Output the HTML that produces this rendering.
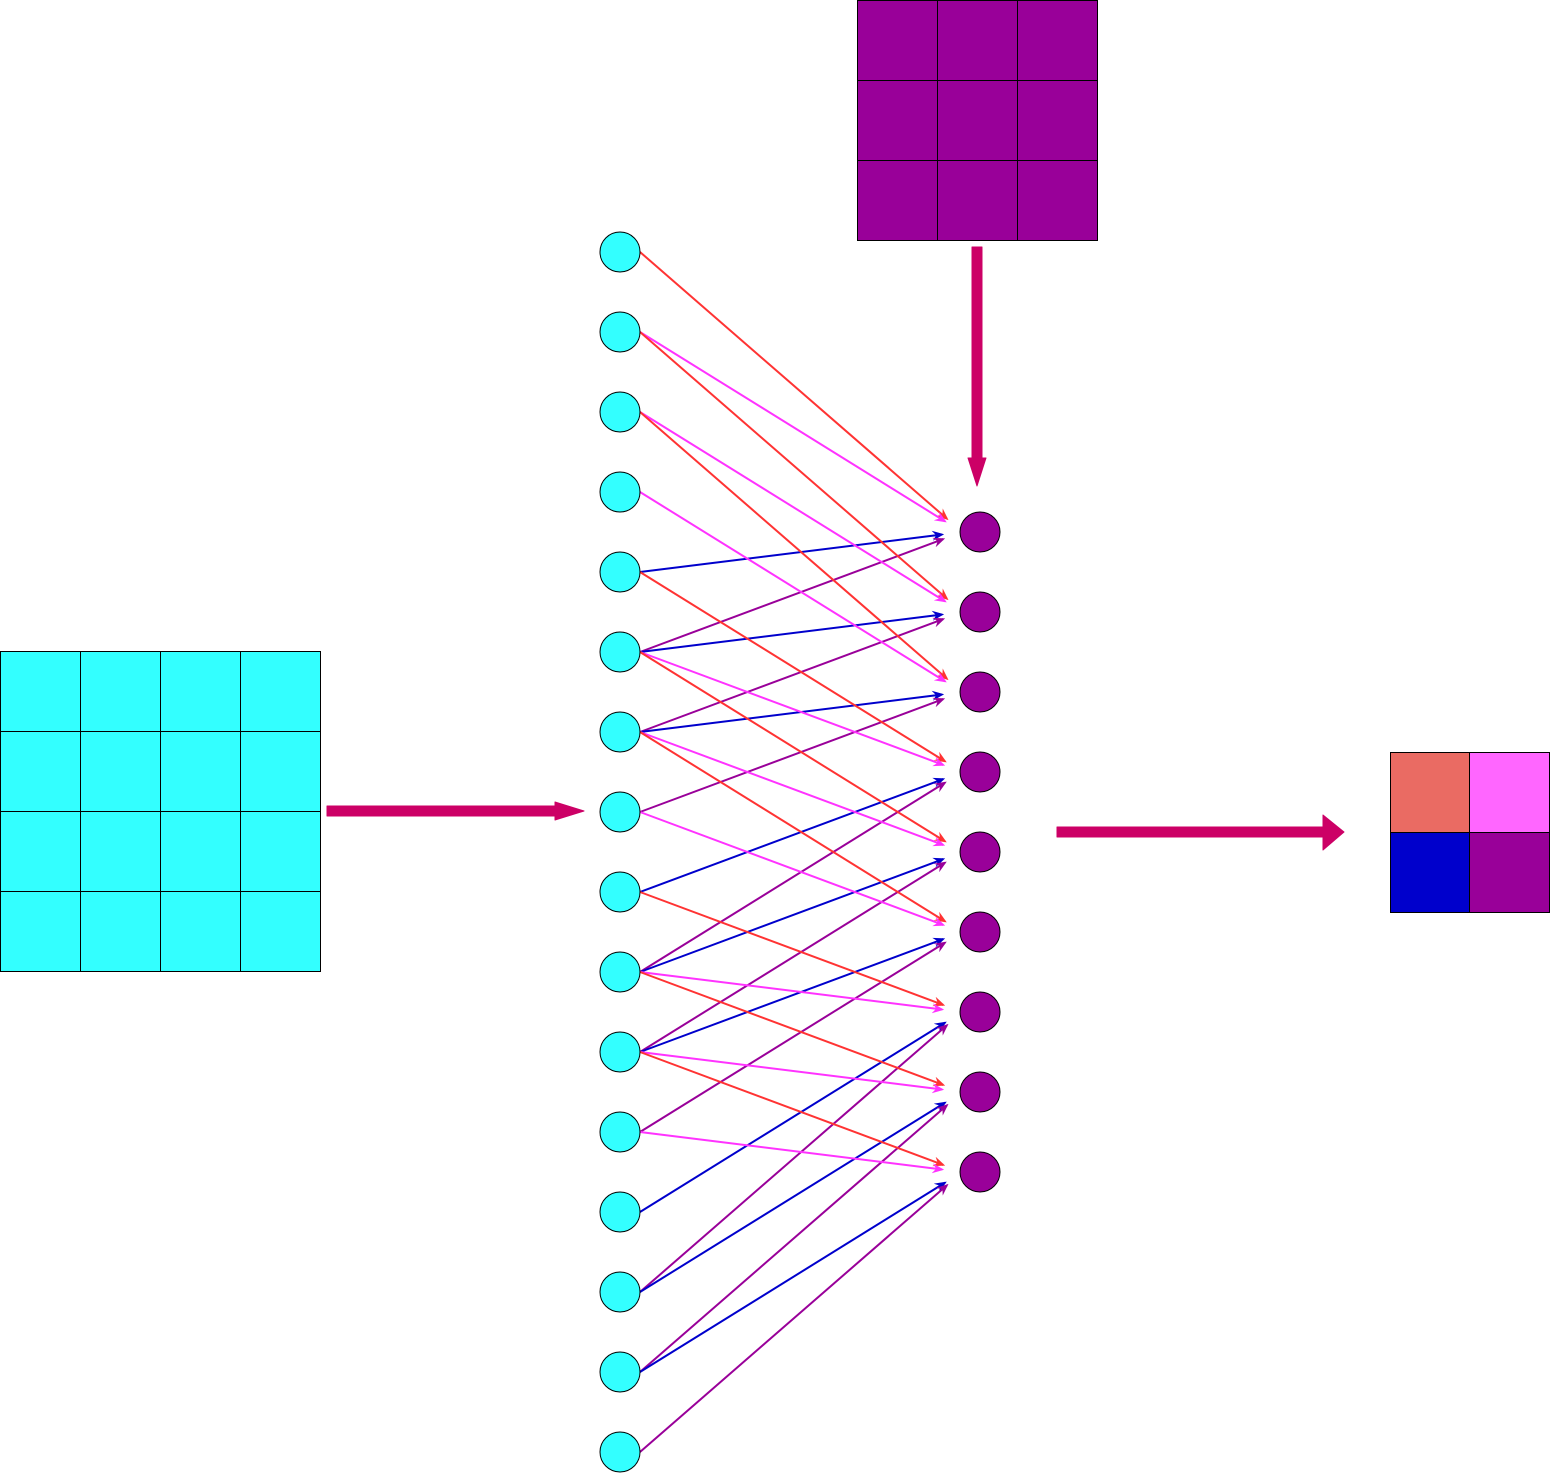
<!DOCTYPE html>
<html><head><style>html,body{margin:0;padding:0;background:#fff}svg{display:block}</style></head>
<body>
<svg width="1550" height="1473" viewBox="0 0 1550 1473" xmlns="http://www.w3.org/2000/svg">
<defs>
<marker id="mr" markerWidth="12" markerHeight="10" refX="10" refY="5" orient="auto" markerUnits="userSpaceOnUse"><path d="M0,0 L12,5 L0,10 L4,5 Z" fill="#FF3333"/></marker>
<marker id="mm" markerWidth="12" markerHeight="10" refX="10" refY="5" orient="auto" markerUnits="userSpaceOnUse"><path d="M0,0 L12,5 L0,10 L4,5 Z" fill="#FF33FF"/></marker>
<marker id="mb" markerWidth="12" markerHeight="10" refX="10" refY="5" orient="auto" markerUnits="userSpaceOnUse"><path d="M0,0 L12,5 L0,10 L4,5 Z" fill="#0000CC"/></marker>
<marker id="mp" markerWidth="12" markerHeight="10" refX="10" refY="5" orient="auto" markerUnits="userSpaceOnUse"><path d="M0,0 L12,5 L0,10 L4,5 Z" fill="#990099"/></marker>
</defs>
<g stroke="#000" stroke-width="1" fill="#33FFFF">
<rect x="0.5" y="651.5" width="80" height="80"/><rect x="80.5" y="651.5" width="80" height="80"/><rect x="160.5" y="651.5" width="80" height="80"/><rect x="240.5" y="651.5" width="80" height="80"/>
<rect x="0.5" y="731.5" width="80" height="80"/><rect x="80.5" y="731.5" width="80" height="80"/><rect x="160.5" y="731.5" width="80" height="80"/><rect x="240.5" y="731.5" width="80" height="80"/>
<rect x="0.5" y="811.5" width="80" height="80"/><rect x="80.5" y="811.5" width="80" height="80"/><rect x="160.5" y="811.5" width="80" height="80"/><rect x="240.5" y="811.5" width="80" height="80"/>
<rect x="0.5" y="891.5" width="80" height="80"/><rect x="80.5" y="891.5" width="80" height="80"/><rect x="160.5" y="891.5" width="80" height="80"/><rect x="240.5" y="891.5" width="80" height="80"/>
</g>
<g stroke="#000" stroke-width="1" fill="#990099">
<rect x="857.5" y="0.5" width="80" height="80"/><rect x="937.5" y="0.5" width="80" height="80"/><rect x="1017.5" y="0.5" width="80" height="80"/>
<rect x="857.5" y="80.5" width="80" height="80"/><rect x="937.5" y="80.5" width="80" height="80"/><rect x="1017.5" y="80.5" width="80" height="80"/>
<rect x="857.5" y="160.5" width="80" height="80"/><rect x="937.5" y="160.5" width="80" height="80"/><rect x="1017.5" y="160.5" width="80" height="80"/>
</g>
<g stroke="#000" stroke-width="1">
<rect x="1390.5" y="752.5" width="79" height="80" fill="#EA6B63"/><rect x="1469.5" y="752.5" width="80" height="80" fill="#FF66FF"/>
<rect x="1390.5" y="832.5" width="79" height="80" fill="#0000CC"/><rect x="1469.5" y="832.5" width="80" height="80" fill="#990099"/>
</g>
<g fill="#CC0066" stroke="#CC0066" stroke-linejoin="round">
<path d="M327,806 L555,806 L555,802 L584,811 L555,820 L555,816 L327,816 Z"/>
<path d="M972,247 L982,247 L982,458 L986,458 L977,486 L968,458 L972,458 Z"/>
<path d="M1057,827 L1323,827 L1323,815 L1344,832 L1323,850 L1323,837 L1057,837 Z"/>
</g>
<g id="edges" fill="none" stroke-width="2"></g>
<g id="nodes" stroke="#000" stroke-width="1"></g>
<script>
(function(){
var ns="http://www.w3.org/2000/svg";
var e=document.getElementById("edges"),n=document.getElementById("nodes");
var cols=[["#FF3333","mr"],["#FF33FF","mm"],["#0000CC","mb"],["#990099","mp"]];
for(var r=0;r<3;r++)for(var c=0;c<3;c++){
 var j=3*r+c,yo=532+80*j;
 var k=0;
 for(var a=0;a<2;a++)for(var b=0;b<2;b++){
  var i=4*(r+a)+(c+b),yi=252+80*i;
  var dx=958-640,dy=yo-yi,L=Math.sqrt(dx*dx+dy*dy);
  var l=document.createElementNS(ns,"line");
  l.setAttribute("x1",640);l.setAttribute("y1",yi);
  l.setAttribute("x2",960-20*dx/L+2);l.setAttribute("y2",yo-20*dy/L);
  l.setAttribute("stroke",cols[k][0]);l.setAttribute("marker-end","url(#"+cols[k][1]+")");
  e.appendChild(l);k++;
 }
}
for(var i=0;i<16;i++){var ci=document.createElementNS(ns,"circle");ci.setAttribute("cx",620);ci.setAttribute("cy",252+80*i);ci.setAttribute("r",20);ci.setAttribute("fill","#33FFFF");n.appendChild(ci);}
for(var j=0;j<9;j++){var co=document.createElementNS(ns,"circle");co.setAttribute("cx",980);co.setAttribute("cy",532+80*j);co.setAttribute("r",20);co.setAttribute("fill","#990099");n.appendChild(co);}
})();
</script>
</svg>
</body></html>
